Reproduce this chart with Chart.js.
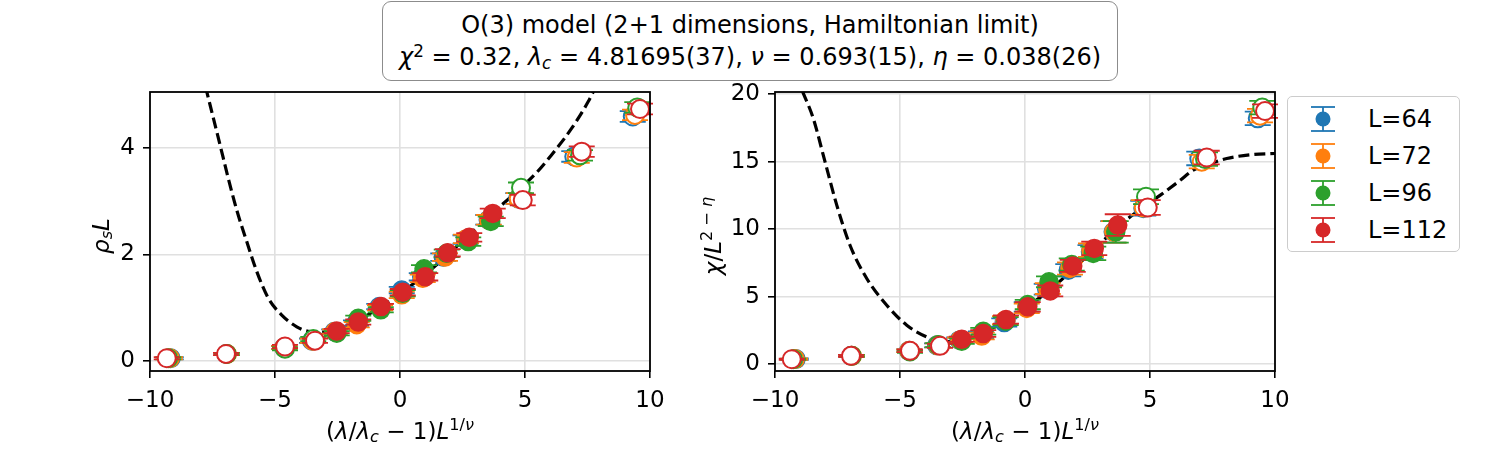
<!DOCTYPE html>
<html>
<head>
<meta charset="utf-8">
<script src="https://cdn.jsdelivr.net/npm/chart.js@4.4.0/dist/chart.umd.min.js"></script>
<style>
  body { margin:0; width:1500px; height:465px; background:#fff; position:relative; overflow:hidden; font-family:"DejaVu Sans"; }
  #c1 { position:absolute; left:0; top:0; }
  #c2 { position:absolute; left:660px; top:0; }
  #title { position:absolute; left:382px; top:1px; width:736px; height:80px; box-sizing:border-box;
           border:1.5px solid #8c8c8c; border-radius:9px; text-align:center; font-size:24px; line-height:32px; padding-top:7px; }
  #title sup { font-size:0.7em; vertical-align:0.5em; line-height:0; }
  #title sub { font-size:0.7em; vertical-align:-0.25em; line-height:0; }
  #legend { position:absolute; left:1287px; top:96px; width:173px; height:156px; box-sizing:border-box;
            border:1.2px solid #ccc; border-radius:5px; background:#fff; }
  .row { position:absolute; left:0; height:30px; font-size:24px; line-height:30px; }
  .row svg { position:absolute; left:20px; top:0; }
  .row span { position:absolute; left:80px; top:0; white-space:nowrap; }
</style>
</head>
<body>
<div id="title">O(3) model (2+1 dimensions, Hamiltonian limit)<br>
<i>χ</i><sup>2</sup> = 0.32, <i>λ</i><sub><i>c</i></sub> = 4.81695(37), <i>ν</i> = 0.693(15), <i>η</i> = 0.038(26)</div>
<canvas id="c1" width="700" height="465"></canvas>
<canvas id="c2" width="640" height="465"></canvas>
<div id="legend"></div>
<script>
// series labels / colours
const labels = ['L=64', 'L=72', 'L=96', 'L=112'];
const colors = ['#1f77b4', '#ff7f0e', '#2ca02c', '#d62728'];

// scaled coupling (λ/λc - 1) L^(1/ν) for each L
const x64  = [-9.17, -6.94, -4.64, -3.52, -2.63, -1.76, -0.83, 0.07, 0.87, 1.73, 2.62, 3.53, 4.73, 6.97, 9.31];
const x72  = [-9.20, -6.92, -4.63, -3.49, -2.60, -1.73, -0.80, 0.07, 0.91, 1.80, 2.64, 3.55, 4.75, 7.07, 9.40];
const x96  = [-9.27, -6.93, -4.60, -3.47, -2.53, -1.67, -0.77, 0.11, 0.96, 1.87, 2.73, 3.63, 4.84, 7.20, 9.49];
const x112 = [-9.33, -6.96, -4.60, -3.40, -2.53, -1.67, -0.76, 0.11, 1.01, 1.91, 2.77, 3.71, 4.91, 7.27, 9.60];

// rho_s L
const rho64  = [0.05, 0.13, 0.25, 0.38, 0.55, 0.71, 1.02, 1.33, 1.58, 1.95, 2.28, 2.65, 3.05, 3.84, 4.59];
const rho72  = [0.05, 0.13, 0.25, 0.38, 0.55, 0.68, 1.00, 1.24, 1.55, 1.95, 2.29, 2.65, 3.05, 3.82, 4.62];
const rho96  = [0.05, 0.13, 0.23, 0.41, 0.52, 0.80, 0.96, 1.27, 1.73, 2.02, 2.24, 2.62, 3.25, 3.86, 4.76];
const rho112 = [0.05, 0.13, 0.27, 0.38, 0.56, 0.73, 1.02, 1.29, 1.58, 2.03, 2.32, 2.77, 3.02, 3.93, 4.73];

// chi / L^(2-eta)
const chi64  = [0.38, 0.62, 0.99, 1.40, 1.78, 2.19, 3.09, 4.25, 5.55, 6.96, 8.32, 9.80, 11.55, 15.23, 18.2];
const chi72  = [0.38, 0.62, 0.99, 1.40, 1.78, 2.09, 3.26, 4.13, 5.60, 7.09, 8.44, 9.80, 11.6, 14.99, 18.4];
const chi96  = [0.37, 0.62, 0.95, 1.42, 1.71, 2.44, 3.19, 4.42, 6.10, 7.38, 8.20, 9.80, 12.4, 15.19, 19.0];
const chi112 = [0.37, 0.62, 0.99, 1.36, 1.85, 2.27, 3.31, 4.25, 5.43, 7.28, 8.57, 10.3, 11.6, 15.3, 18.74];

// error bars (roughly the same for all L)
const errRho = [0.02, 0.02, 0.03, 0.04, 0.04, 0.05, 0.05, 0.06, 0.07, 0.07, 0.08, 0.09, 0.10, 0.10, 0.10];
const errChi = [0.05, 0.08, 0.10, 0.15, 0.20, 0.25, 0.30, 0.35, 0.40, 0.45, 0.50, 0.80, 0.55, 0.50, 0.50];

// points left out of the fit (open markers)
const openIdx = [0, 1, 2, 3, 12, 13, 14];

// fit curves
const fitRhoX = [-7.78, -7.2, -6.87, -6.51, -6.13, -5.73, -5.27, -4.73, -4.13, -3.6, -3.0, -2.5, -1.67, -0.76, 0.11, 1.0, 1.9, 2.77, 3.71, 4.6, 5.47, 6.2, 6.87, 7.53, 7.8];
const fitRhoY = [5.15, 4.06, 3.43, 2.80, 2.24, 1.68, 1.18, 0.86, 0.64, 0.55, 0.54, 0.58, 0.76, 1.02, 1.30, 1.62, 1.99, 2.37, 2.78, 3.15, 3.54, 3.95, 4.37, 4.87, 5.12];
const fitChiX = [-8.9, -8.47, -8.0, -7.53, -7.0, -6.33, -5.53, -4.73, -3.93, -3.33, -2.5, -1.67, -0.76, 0.11, 1.0, 1.9, 2.8, 3.7, 4.6, 5.4, 6.2, 6.73, 7.4, 8.07, 9.0, 10.0];
const fitChiY = [20.2, 18.2, 14.99, 11.78, 8.81, 6.35, 4.37, 2.89, 2.02, 1.65, 1.85, 2.35, 3.25, 4.3, 5.5, 7.0, 8.55, 10.15, 11.45, 12.5, 13.6, 14.37, 14.85, 15.23, 15.5, 15.6];

const xTicks = [-10, -5, 0, 5, 10];

Chart.defaults.font.family = '"DejaVu Sans"';
Chart.defaults.color = '#000';

const xs = [x64, x72, x96, x112];
const pts = (a, b) => a.map((v, i) => ({ x: v, y: b[i] }));

function seriesSets(ys, err) {
  return xs.map((x, k) => ({
    label: labels[k],
    data: pts(x, ys[k]),
    err: err,
    order: 4 - k,
    showLine: false,
    borderColor: colors[k],
    backgroundColor: colors[k],
    pointRadius: 9,
    pointHoverRadius: 9,
    pointBorderWidth: c => openIdx.includes(c.dataIndex) ? 2 : 1.5,
    pointBackgroundColor: c => openIdx.includes(c.dataIndex) ? '#ffffff' : colors[k]
  }));
}

function fitSet(fx, fy) {
  return {
    data: pts(fx, fy), order: 10, showLine: true, pointRadius: 0,
    borderColor: '#000', borderWidth: 3.2, borderDash: [11, 5],
    cubicInterpolationMode: 'monotone', fill: false
  };
}

// error bars drawn right before each series' markers
const errorBars = {
  id: 'errorBars',
  beforeDatasetDraw(chart, args) {
    const ds = chart.data.datasets[args.index];
    if (!ds.err) return;
    const ctx = chart.ctx, ys = chart.scales.y;
    ctx.save();
    ctx.strokeStyle = ds.borderColor;
    ctx.lineWidth = 1.8;
    args.meta.data.forEach((el, i) => {
      const v = ds.data[i].y, e = ds.err[i];
      const t = ys.getPixelForValue(v + e), b = ys.getPixelForValue(v - e);
      ctx.beginPath();
      ctx.moveTo(el.x, t); ctx.lineTo(el.x, b);
      ctx.moveTo(el.x - 13, t); ctx.lineTo(el.x + 13, t);
      ctx.moveTo(el.x - 13, b); ctx.lineTo(el.x + 13, b);
      ctx.stroke();
    });
    ctx.restore();
  }
};

// black box around the axes
const frame = {
  id: 'frame',
  afterDatasetsDraw(chart) {
    const a = chart.chartArea, ctx = chart.ctx;
    ctx.save();
    ctx.strokeStyle = '#000';
    ctx.lineWidth = 1.8;
    ctx.strokeRect(a.left, a.top, a.right - a.left, a.bottom - a.top);
    ctx.restore();
  }
};

// mathtext-like titles
function richText(ctx, parts, size) {
  const fontOf = p => (p.i ? 'italic ' : '') + ((p.sup || p.sub) ? size * 0.7 : size) + 'px "DejaVu Sans"';
  const widths = parts.map(p => { ctx.font = fontOf(p); return ctx.measureText(p.t).width; });
  let x = -widths.reduce((s, w) => s + w, 0) / 2;
  parts.forEach((p, k) => {
    ctx.font = fontOf(p);
    const dy = p.sup ? -0.4 * size : p.sub ? 0.15 * size : 0;
    ctx.fillText(p.t, x, dy);
    x += widths[k];
  });
}

const axisTitles = {
  id: 'axisTitles',
  afterDraw(chart, args, opts) {
    const ctx = chart.ctx, a = chart.chartArea;
    ctx.save();
    ctx.fillStyle = '#000';
    ctx.textBaseline = 'alphabetic';
    ctx.textAlign = 'left';
    ctx.save();
    ctx.translate((a.left + a.right) / 2, opts.xBase);
    richText(ctx, opts.x, 23);
    ctx.restore();
    ctx.translate(opts.yBase, opts.yMid);
    ctx.rotate(-Math.PI / 2);
    richText(ctx, opts.y, 23);
    ctx.restore();
  }
};

const xTitle = [{ t: '(' }, { t: 'λ', i: 1 }, { t: '/' }, { t: 'λ', i: 1 }, { t: 'c', i: 1, sub: 1 },
                { t: ' − 1)' }, { t: 'L', i: 1 }, { t: '1/', sup: 1 }, { t: 'ν', i: 1, sup: 1 }];

function makeChart(id, datasets, yOpt, yWidth, padRight, yTitle, yBase) {
  return new Chart(document.getElementById(id), {
    type: 'scatter',
    data: { datasets: datasets },
    options: {
      responsive: false,
      animation: false,
      events: [],
      layout: { padding: { left: 0, right: padRight, top: 92, bottom: 0 } },
      plugins: {
        legend: { display: false },
        tooltip: { enabled: false },
        axisTitles: { x: xTitle, xBase: 439, y: yTitle, yBase: yBase, yMid: 236 }
      },
      scales: {
        x: {
          type: 'linear', min: -10, max: 10,
          afterBuildTicks: s => { s.ticks = xTicks.map(v => ({ value: v })); },
          afterFit: s => { s.height = 94; },
          border: { display: false },
          grid: { color: '#e0e0e0', lineWidth: 1.6, tickColor: '#000', tickWidth: 1.6, tickLength: 7 },
          ticks: { font: { size: 23 }, padding: 9, maxRotation: 0, autoSkip: false,
                   callback: v => v < 0 ? '\u2212' + Math.abs(v) : '' + v }
        },
        y: {
          type: 'linear', min: yOpt.min, max: yOpt.max,
          afterBuildTicks: s => { s.ticks = yOpt.ticks.map(v => ({ value: v })); },
          afterFit: s => { s.width = yWidth; },
          border: { display: false },
          grid: { color: '#e0e0e0', lineWidth: 1.6, tickColor: '#000', tickWidth: 1.6, tickLength: 7 },
          ticks: { font: { size: 23 }, padding: 8, autoSkip: false }
        }
      }
    },
    plugins: [errorBars, frame, axisTitles]
  });
}

makeChart('c1', seriesSets([rho64, rho72, rho96, rho112], errRho).concat([fitSet(fitRhoX, fitRhoY)]),
  { min: -0.19, max: 5.05, ticks: [0, 2, 4] }, 150, 50,
  [{ t: 'ρ', i: 1 }, { t: 's', i: 1, sub: 1 }, { t: 'L', i: 1 }], 109);

makeChart('c2', seriesSets([chi64, chi72, chi96, chi112], errChi).concat([fitSet(fitChiX, fitChiY)]),
  { min: -0.5, max: 20.15, ticks: [0, 5, 10, 15, 20] }, 115, 25,
  [{ t: 'χ', i: 1 }, { t: '/' }, { t: 'L', i: 1 }, { t: '2 − ', sup: 1 }, { t: 'η', i: 1, sup: 1 }], 61);

// legend
const legend = document.getElementById('legend');
labels.forEach((lab, k) => {
  const row = document.createElement('div');
  row.className = 'row';
  row.style.top = (7 + k * 37) + 'px';
  row.innerHTML =
    '<svg width="30" height="30" viewBox="0 0 30 30">' +
    '<line x1="15" y1="3" x2="15" y2="27" stroke="' + colors[k] + '" stroke-width="1.8"/>' +
    '<line x1="3" y1="3" x2="27" y2="3" stroke="' + colors[k] + '" stroke-width="1.8"/>' +
    '<line x1="3" y1="27" x2="27" y2="27" stroke="' + colors[k] + '" stroke-width="1.8"/>' +
    '<circle cx="15" cy="15" r="7.5" fill="' + colors[k] + '"/></svg>' +
    '<span>' + lab + '</span>';
  legend.appendChild(row);
});
</script>
</body>
</html>
